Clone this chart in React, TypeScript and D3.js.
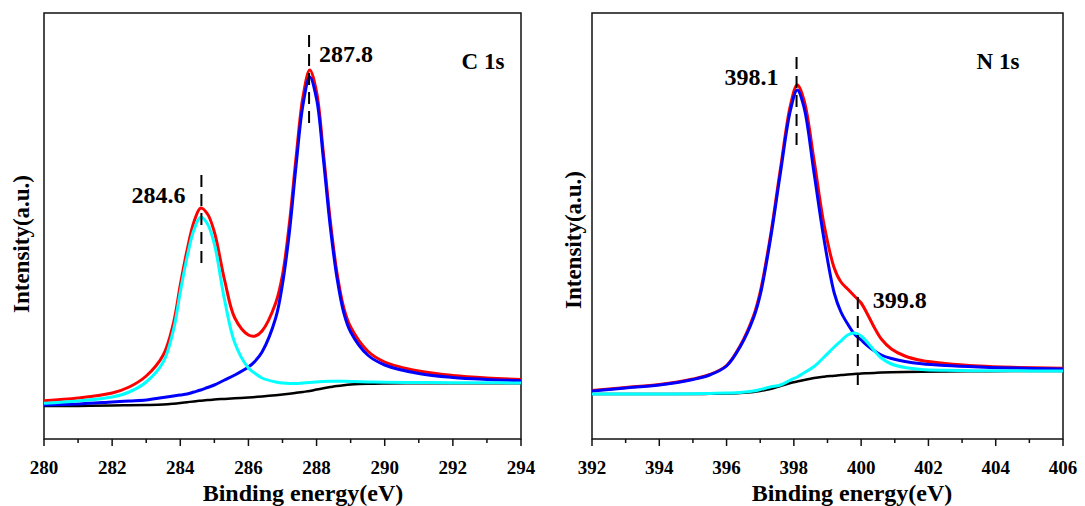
import React from "react";
import * as d3 from "d3";

// C 1s panel, binding energy (eV) and intensity (a.u.)
const cEnergy = [280, 281, 282, 282.5, 283, 283.5, 283.8, 284, 284.2, 284.4, 284.6, 284.8, 285, 285.3, 285.6, 286, 286.2, 286.4, 286.8, 287, 287.2, 287.4, 287.6, 287.8, 288, 288.2, 288.4, 288.6, 288.8, 289, 289.5, 290, 291, 292, 293, 294];
const cEnvelope = [38.3, 41, 46, 52, 63, 84, 116, 154, 189, 217, 231, 225, 207, 159, 121, 104, 103, 108, 136, 164, 215, 282, 342, 369, 347, 286, 219, 166, 131, 112, 88, 77, 68, 63.5, 61, 59.5];
const cPeakHigh = [34, 35, 37, 38, 39, 41.5, 43, 44, 45, 47, 49, 51.5, 54, 59, 64, 72, 78, 87, 121, 155, 206, 274, 334, 362, 340, 280, 213, 161, 126, 107, 84, 74, 65.5, 61.5, 59.5, 58.3];
const cPeakLow = [35.7, 38, 42, 47, 57, 77, 109, 147, 182, 209, 222, 215, 195, 139, 96, 71, 65.5, 61, 57, 56, 55.5, 55.5, 56, 56.5, 57, 57.5, 57.7, 57.8, 57.7, 57.5, 57, 56.7, 56.5, 56.3, 56.2, 56];
const cBackground = [33, 33, 33.5, 33.7, 34, 34.5, 35.3, 36, 36.8, 37.6, 38.3, 38.9, 39.5, 40.1, 40.7, 41.5, 42, 42.6, 43.8, 44.5, 45.3, 46.2, 47.1, 48, 49.5, 50.7, 51.9, 53, 53.8, 54.4, 55.2, 55.5, 55.7, 55.7, 55.7, 55.7];
const cTicks = [280, 282, 284, 286, 288, 290, 292, 294];
const cPeakLabels = ["284.6", "287.8"];
const cPeakPos = [284.62, 287.78];

// N 1s panel
const nEnergy = [392, 393, 394, 395, 395.5, 396, 396.4, 396.8, 397, 397.3, 397.6, 397.9, 398.1, 398.3, 398.6, 398.9, 399.2, 399.4, 399.6, 399.8, 400, 400.2, 400.4, 400.6, 400.9, 401.3, 401.8, 402.5, 403.5, 404.5, 406];
const nEnvelope = [48.5, 51.5, 54.5, 60, 64.5, 73.5, 93, 123, 147, 202, 270, 334, 354, 339, 279, 214, 171, 157, 150, 143, 136, 124, 111, 100, 90, 83, 78.5, 75.5, 73, 71.7, 70.7];
const nPeakMain = [48, 51, 54, 59.5, 64, 73, 92, 121, 144, 199, 266, 329, 349, 332, 266, 199, 146, 127, 115, 105, 99, 93, 88, 84, 80.5, 77.5, 75.2, 73.5, 72, 71, 70];
const nPeakSide = [45, 45, 45, 45.2, 45.5, 46, 46.5, 48, 49.5, 52, 54, 59, 62, 66, 72.5, 82, 92, 98, 104, 106, 103, 96, 88, 81, 75, 71.5, 69.5, 68.7, 68.3, 68.2, 68];
const nBackground = [45, 45, 45, 45, 45.2, 45.5, 46, 47, 48, 50, 53, 56, 57.5, 59, 61, 62.3, 63.3, 64, 64.5, 65, 65.5, 65.8, 66.1, 66.4, 66.7, 67, 67.3, 67.6, 67.8, 67.9, 68];
const nTicks = [392, 394, 396, 398, 400, 402, 404, 406];
const nPeakLabels = ["398.1", "399.8"];
const nPeakPos = [398.08, 399.9];

const FONT = "'Liberation Serif', 'Times New Roman', serif";
const TOP = 13;
const BOTTOM = 439;

type PanelProps = {
  x0: number;
  x1: number;
  domain: [number, number];
  ticks: number[];
  energy: number[];
  envelope: number[];
  main: number[];
  side: number[];
  bg: number[];
  name: string;
  nameX: number;
  titleX: number;
  yTitleX: number;
  yTitleY: number;
  marks: { pos: number; label: string; top: number; bottom: number; dx: number; anchor: string; ly: number }[];
};

function Panel(p: PanelProps) {
  const x = d3.scaleLinear().domain(p.domain).range([p.x0, p.x1]);
  const y = d3.scaleLinear().domain([0, 426]).range([BOTTOM, TOP]);
  const line = (vals: number[]) =>
    d3
      .line<number>()
      .x((_, i) => x(p.energy[i]))
      .y((d) => y(d))
      .curve(d3.curveCatmullRom.alpha(0.5))(vals) || "";

  const minor = d3.range(p.domain[0], p.domain[1] + 0.01, 1);

  return (
    <g>
      <rect x={p.x0} y={TOP} width={p.x1 - p.x0} height={BOTTOM - TOP} fill="none" stroke="#111" strokeWidth={1.5} />
      {minor.map((t) => (
        <line key={t} x1={x(t)} x2={x(t)} y1={BOTTOM} y2={BOTTOM + (t % 2 === 0 ? 7 : 4)} stroke="#111" strokeWidth={1.5} />
      ))}
      {p.ticks.map((t) => (
        <text key={t} x={x(t)} y={474} textAnchor="middle" fontFamily={FONT} fontWeight="bold" fontSize={19}>
          {t}
        </text>
      ))}
      <text x={p.titleX} y={501} textAnchor="middle" fontFamily={FONT} fontWeight="bold" fontSize={24}>
        Binding energy(eV)
      </text>
      <text
        transform={`translate(${p.yTitleX},${p.yTitleY}) rotate(-90)`}
        textAnchor="middle"
        dominantBaseline="central"
        fontFamily={FONT}
        fontWeight="bold"
        fontSize={23}
      >
        Intensity(a.u.)
      </text>

      <path d={line(p.bg)} fill="none" stroke="#000" strokeWidth={2.5} />
      <path d={line(p.envelope)} fill="none" stroke="#ff0000" strokeWidth={3} />
      <path d={line(p.main)} fill="none" stroke="#0000ff" strokeWidth={3} />
      <path d={line(p.side)} fill="none" stroke="#00ffff" strokeWidth={3} />

      {p.marks.map((m) => (
        <g key={m.label}>
          <line x1={x(m.pos)} x2={x(m.pos)} y1={m.top} y2={m.bottom} stroke="#000" strokeWidth={2} strokeDasharray="12 7" />
          <text x={x(m.pos) + m.dx} y={m.ly} textAnchor={m.anchor} fontFamily={FONT} fontWeight="bold" fontSize={24}>
            {m.label}
          </text>
        </g>
      ))}

      <text x={p.nameX} y={69} textAnchor="middle" fontFamily={FONT} fontWeight="bold" fontSize={23}>
        {p.name}
      </text>
    </g>
  );
}

export default function App() {
  return (
    <svg width={1085} height={506} style={{ position: "absolute", left: 0, top: 0, background: "#fff" }}>
      <Panel
        x0={44}
        x1={521}
        domain={[280, 294]}
        ticks={cTicks}
        energy={cEnergy}
        envelope={cEnvelope}
        main={cPeakHigh}
        side={cPeakLow}
        bg={cBackground}
        name="C 1s"
        nameX={483}
        titleX={303}
        yTitleX={21}
        yTitleY={244}
        marks={[
          { pos: cPeakPos[0], label: cPeakLabels[0], top: 175, bottom: 270, dx: -16, anchor: "end", ly: 203 },
          { pos: cPeakPos[1], label: cPeakLabels[1], top: 35, bottom: 130, dx: 10, anchor: "start", ly: 62 },
        ]}
      />
      <Panel
        x0={592}
        x1={1063}
        domain={[392, 406]}
        ticks={nTicks}
        energy={nEnergy}
        envelope={nEnvelope}
        main={nPeakMain}
        side={nPeakSide}
        bg={nBackground}
        name="N 1s"
        nameX={998}
        titleX={852}
        yTitleX={573}
        yTitleY={240}
        marks={[
          { pos: nPeakPos[0], label: nPeakLabels[0], top: 57, bottom: 150, dx: -18, anchor: "end", ly: 85 },
          { pos: nPeakPos[1], label: nPeakLabels[1], top: 297, bottom: 392, dx: 15, anchor: "start", ly: 308 },
        ]}
      />
    </svg>
  );
}
